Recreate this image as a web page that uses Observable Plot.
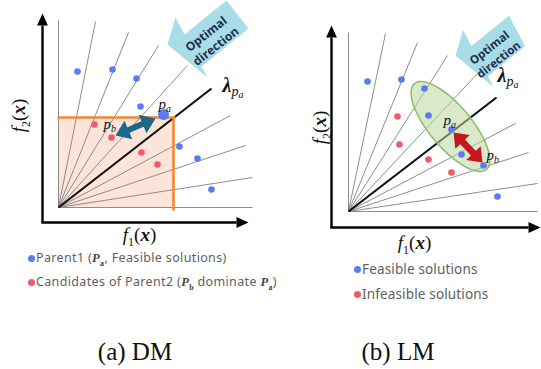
<!DOCTYPE html>
<html><head><meta charset="utf-8">
<script src="https://cdn.jsdelivr.net/npm/d3@7"></script>
<script src="https://cdn.jsdelivr.net/npm/@observablehq/plot@0.6"></script>
<style>
html,body{margin:0;padding:0;background:#fff;}
#wrap{position:relative;width:541px;height:369px;overflow:hidden;background:#fff;}
.panel{position:absolute;top:0;}
.leg{position:absolute;display:flex;align-items:center;height:16px;font-family:"Noto Sans",sans-serif;color:#606060;white-space:nowrap;}
.dot{display:inline-block;border-radius:50%;width:7px;height:7px;margin-right:1px;flex:none;}
.m{font-family:"Liberation Serif",serif;font-weight:bold;font-style:italic;color:#444;}
.m sub{font-size:8px;font-style:normal;}
.cap{position:absolute;height:30px;line-height:30px;font-family:"Liberation Serif",serif;font-size:25px;color:#111;transform:translateX(-50%);white-space:nowrap;}
</style></head><body>
<div id="wrap"></div>
<script>
// ---------- data: panel (a) DM ----------
const aRayX = [0, 1.85, 3.5, 5.0, 6.45, 8.6, 9.35, 9.7, 9.7];
const aRayY = [9.35, 9.3, 8.75, 8.1, 7.1, 4.6, 3.1, 1.5, 0];
const aLamX = 7.65, aLamY = 5.95;
const aBlueX = [0.95, 2.7, 3.9, 4.1, 6.05, 6.95, 7.65];
const aBlueY = [6.8, 6.9, 6.45, 5.05, 3.05, 2.45, 0.9];
const aParentX = [5.25], aParentY = [4.65];
const aRedX = [1.8, 2.65, 4.15, 4.95];
const aRedY = [4.15, 3.5, 2.75, 2.15];
const aBoxX = 5.75, aBoxY = 4.5;
const aOptX = [5.45, 5.85, 6.3, 8.4, 9.5, 7.15, 7.45];
const aOptY = [8.15, 9.5, 8.65, 10.35, 8.95, 7.05, 6.5];
const aOptText = [7.6, 8.4];
const aMoveX = [2.85, 4.85], aMoveY = [3.6, 4.45];
const aAxis = {x: -0.8, y: -0.75, top: 9.7, right: 9.5};
const aLabels = {pa: [5.0, 5.18], pb: [2.25, 4.18], lam: [8.2, 6.08], f1: [4.05, -1.38], f2: [-2.0, 4.6]};

// ---------- data: panel (b) LM ----------
const bRayX = [0, 1.85, 3.45, 4.95, 6.5, 8.35, 9.0, 9.45, 9.45];
const bRayY = [8.95, 8.9, 8.45, 7.8, 6.95, 4.4, 2.95, 1.4, 0];
const bLamX = 7.4, bLamY = 5.7;
const bBlueX = [0.95, 2.65, 3.8, 4.0, 5.15, 5.65, 6.75, 7.45];
const bBlueY = [6.5, 6.6, 6.15, 4.8, 4.1, 2.85, 2.3, 0.75];
const bRedX = [2.45, 2.55, 4.0, 5.15];
const bRedY = [4.75, 3.35, 2.6, 1.95];
const bEllipse = {cx: 5.1, cy: 4.25, a: 2.8, b: 1.05, angle: -50};
const bOptX = [5.35, 5.73, 6.15, 8.02, 8.83, 6.97, 7.25];
const bOptY = [7.8, 9.08, 8.28, 9.79, 8.27, 6.76, 6.23];
const bOptText = [7.25, 7.92];
const bMoveX = [5.25, 6.7], bMoveY = [3.95, 2.45];
const bAxis = {x: -0.85, y: -0.8, top: 9.3, right: 9.6};
const bLabels = {pa: [4.75, 4.58], pb: [6.9, 2.8], lam: [7.45, 6.8], f1: [3.3, -1.55], f2: [-1.45, 4.2]};

// ---------- styling ----------
const BLUE = "#5a7cf0", RED = "#f25c6a", RAY = "#808080", ORANGE = "#f08a30", PINK = "#fde4da";
const TEAL = "#1d6787", DARKRED = "#c4161c", OPT = "#a8dce6", OPTTXT = "#1f2d4d";
const SERIF = "Liberation Serif, serif";
const H = 262;

const RICH = {
  "p_a": '<tspan font-style="italic">p</tspan><tspan font-style="italic" font-size="10" dy="3">a</tspan>',
  "p_b": '<tspan font-style="italic">p</tspan><tspan font-style="italic" font-size="10" dy="3">b</tspan>',
  "lam": '<tspan font-style="italic" font-weight="bold">λ</tspan><tspan font-style="italic" font-size="14" dy="4">p</tspan><tspan font-style="italic" font-size="10" dy="2">a</tspan>',
  "f1(x)": '<tspan font-style="italic">f</tspan><tspan font-size="12" dy="5">1</tspan><tspan dy="-5">(</tspan><tspan font-style="italic" font-weight="bold">x</tspan><tspan>)</tspan>',
  "f2(x)": '<tspan font-style="italic">f</tspan><tspan font-size="12" dy="5">2</tspan><tspan dy="-5">(</tspan><tspan font-style="italic" font-weight="bold">x</tspan><tspan>)</tspan>'
};

function head(tx, ty, fx, fy, len, hw, id) {
  const dx = tx - fx, dy = ty - fy, L = Math.hypot(dx, dy), ux = dx / L, uy = dy / L;
  const bx = tx - ux * len, by = ty - uy * len;
  return [{x: tx, y: ty, id}, {x: bx - uy * hw, y: by + ux * hw, id}, {x: bx + uy * hw, y: by - ux * hw, id}];
}
function base(tx, ty, fx, fy, len) {
  const dx = tx - fx, dy = ty - fy, L = Math.hypot(dx, dy);
  return [tx - dx / L * len, ty - dy / L * len];
}
function zip(xs, ys) { return xs.map((x, i) => ({x, y: ys[i]})); }

function axisMarks(ax) {
  const L = 0.6, HW = 0.27;
  const vb = base(ax.x, ax.top, ax.x, ax.y, L), hb = base(ax.right, ax.y, ax.x, ax.y, L);
  const heads = [...head(ax.x, ax.top, ax.x, ax.y, L, HW, "v"), ...head(ax.right, ax.y, ax.x, ax.y, L, HW, "h")];
  return [
    Plot.link([{x1: ax.x, y1: ax.y, x2: vb[0], y2: vb[1]}, {x1: ax.x - 0.06, y1: ax.y, x2: hb[0], y2: hb[1]}],
      {x1: "x1", y1: "y1", x2: "x2", y2: "y2", stroke: "#000", strokeWidth: 2.4}),
    Plot.line(heads, {x: "x", y: "y", z: "id", fill: "#000", stroke: "none", curve: "linear-closed"})
  ];
}
function rayMarks(rx, ry, lx, ly) {
  const rays = rx.map((x, i) => ({x1: 0, y1: 0, x2: x, y2: ry[i]}));
  return [
    Plot.link(rays, {x1: "x1", y1: "y1", x2: "x2", y2: "y2", stroke: RAY, strokeWidth: 0.9}),
    Plot.link([{x1: 0, y1: 0, x2: lx, y2: ly}], {x1: "x1", y1: "y1", x2: "x2", y2: "y2", stroke: "#111", strokeWidth: 2.2})
  ];
}
function optMarks(ox, oy, t, size) {
  return [
    Plot.line(zip(ox, oy), {x: "x", y: "y", fill: OPT, stroke: "none", curve: "linear-closed"}),
    Plot.text([{x: t[0], y: t[1]}], {x: "x", y: "y", text: () => "Optimal\ndirection", rotate: -38, fontSize: size,
      lineHeight: 1.3, fontWeight: "bold", fontFamily: "Open Sans, sans-serif", fill: OPTTXT})
  ];
}
function moveMarks(mx, my, color, width, len, hw) {
  const b1 = base(mx[0], my[0], mx[1], my[1], len - 0.05), b2 = base(mx[1], my[1], mx[0], my[0], len - 0.05);
  const heads = [...head(mx[0], my[0], mx[1], my[1], len, hw, "s"), ...head(mx[1], my[1], mx[0], my[0], len, hw, "e")];
  return [
    Plot.link([{x1: b1[0], y1: b1[1], x2: b2[0], y2: b2[1]}], {x1: "x1", y1: "y1", x2: "x2", y2: "y2", stroke: color, strokeWidth: width}),
    Plot.line(heads, {x: "x", y: "y", z: "id", fill: color, stroke: "none", curve: "linear-closed"})
  ];
}
function labelMarks(lb) {
  const t = (key, pos, opts) => Plot.text([{x: pos[0], y: pos[1]}], {x: "x", y: "y", text: () => key, fontFamily: SERIF, fill: "#111", ...opts});
  return [
    t("p_a", lb.pa, {fontSize: 15, textAnchor: "start"}),
    t("p_b", lb.pb, {fontSize: 15, textAnchor: "start"}),
    t("f1(x)", lb.f1, {fontSize: 19}),
    t("f2(x)", lb.f2, {fontSize: 19, rotate: -90})
  ];
}
function lamMark(lb) {
  return Plot.text([{x: lb.lam[0], y: lb.lam[1]}], {x: "x", y: "y", text: () => "lam", fontFamily: SERIF, fontSize: 20, fill: "#111", textAnchor: "start"});
}
function richify(svg) {
  d3.select(svg).selectAll("text").each(function () {
    const k = this.textContent;
    if (RICH[k]) this.innerHTML = RICH[k];
  });
  return svg;
}
function makePlot(width, xd, yd, marks) {
  return richify(Plot.plot({width, height: H, margin: 0,
    x: {domain: xd, axis: null}, y: {domain: yd, axis: null},
    style: {background: "transparent"}, marks}));
}

// ---------- panel (a) ----------
const plotA = makePlot(270, [-2.9, 10.6], [-2.75, 10.35], [
  Plot.rect([{x1: 0, x2: aBoxX, y1: 0, y2: aBoxY}], {x1: "x1", x2: "x2", y1: "y1", y2: "y2", fill: PINK}),
  ...rayMarks(aRayX, aRayY, aLamX, aLamY),
  Plot.link([{x1: -0.05, y1: aBoxY, x2: aBoxX + 0.1, y2: aBoxY}, {x1: aBoxX, y1: aBoxY, x2: aBoxX, y2: -0.15}],
    {x1: "x1", y1: "y1", x2: "x2", y2: "y2", stroke: ORANGE, strokeWidth: 2.6}),
  ...axisMarks(aAxis),
  ...optMarks(aOptX, aOptY, aOptText, 12),
  lamMark(aLabels),
  Plot.dot(zip(aRedX, aRedY), {x: "x", y: "y", r: 3.3, fill: RED}),
  Plot.dot(zip(aBlueX, aBlueY), {x: "x", y: "y", r: 3.3, fill: BLUE}),
  Plot.dot(zip(aParentX, aParentY), {x: "x", y: "y", r: 5.5, fill: BLUE}),
  ...labelMarks(aLabels),
  ...moveMarks(aMoveX, aMoveY, TEAL, 6, 0.7, 0.5)
]);

// ---------- panel (b) ----------
const ell = d3.range(0, 361, 5).map(t => {
  const r = t * Math.PI / 180, th = bEllipse.angle * Math.PI / 180;
  const u = bEllipse.a * Math.cos(r), v = bEllipse.b * Math.sin(r);
  return {x: bEllipse.cx + u * Math.cos(th) - v * Math.sin(th), y: bEllipse.cy + u * Math.sin(th) + v * Math.cos(th)};
});
const plotB = makePlot(271, [-3.9, 9.65], [-2.55, 10.55], [
  ...rayMarks(bRayX, bRayY, bLamX, bLamY),
  Plot.line(ell, {x: "x", y: "y", fill: "#b9d79f", fillOpacity: 0.55, stroke: "#8cbb68", strokeWidth: 1.5, curve: "linear-closed"}),
  ...axisMarks(bAxis),
  lamMark(bLabels),
  ...optMarks(bOptX, bOptY, bOptText, 11.5),
  Plot.dot(zip(bRedX, bRedY), {x: "x", y: "y", r: 3.3, fill: RED}),
  Plot.dot(zip(bBlueX, bBlueY), {x: "x", y: "y", r: 3.3, fill: BLUE}),
  ...labelMarks(bLabels),
  ...moveMarks(bMoveX, bMoveY, DARKRED, 6.5, 0.65, 0.5)
]);

const wrap = document.getElementById("wrap");
plotA.classList.add("panel"); plotA.style.left = "0px";
plotB.classList.add("panel"); plotB.style.left = "270px";
wrap.append(plotA, plotB);

// ---------- legends & captions ----------
const legendA = [
  {color: BLUE, html: 'Parent1 (<span class="m">P<sub>a</sub></span>, Feasible solutions)'},
  {color: RED, html: 'Candidates of Parent2 (<span class="m">P<sub>b</sub></span> dominate <span class="m">P<sub>a</sub></span>)'}
];
const legendB = [
  {color: BLUE, html: 'Feasible solutions'},
  {color: RED, html: 'Infeasible solutions'}
];
const captions = ["(a) DM", "(b) LM"];
function addLegend(items, left, tops, size, ls) {
  items.forEach((it, i) => {
    const d = document.createElement("div");
    d.className = "leg";
    d.style.left = left + "px"; d.style.top = tops[i] + "px"; d.style.fontSize = size + "px"; d.style.letterSpacing = ls + "px";
    d.innerHTML = `<span class="dot" style="background:${it.color}"></span><span>${it.html}</span>`;
    wrap.append(d);
  });
}
addLegend(legendA, 28, [250, 274], 12.5, 0.35);
addLegend(legendB, 354, [261, 286], 13.5, 0.15);
[[captions[0], 135], [captions[1], 398]].forEach(([t, cx]) => {
  const d = document.createElement("div");
  d.className = "cap"; d.style.left = cx + "px"; d.style.top = "337px"; d.textContent = t;
  wrap.append(d);
});
</script>
</body></html>
